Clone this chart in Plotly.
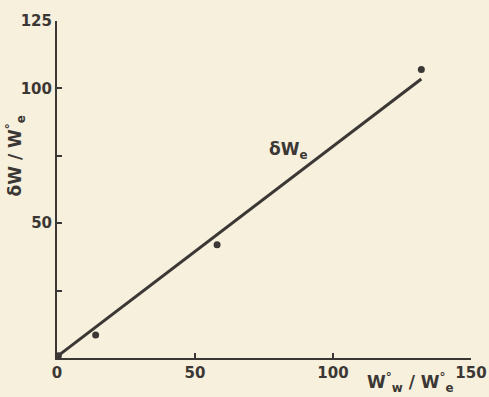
import plotly.graph_objects as go

# data
pts_x = [0.5, 14, 58, 132]
pts_y = [0.8, 8.5, 42, 107]
fit_x = [0, 132]
fit_y = [0.5, 103.5]
x_ticks = [0, 50, 100, 150]
x_ticktext = ["0", "50", "100", "150"]
y_ticks = [25, 50, 75, 100, 125]
y_ticktext = ["", "50", "", "100", "125"]

ink = "#3b3734"
bg = "#f6f0dd"

fig = go.Figure()
fig.add_trace(go.Scatter(x=fit_x, y=fit_y, mode="lines",
                         line=dict(color=ink, width=3), showlegend=False))
fig.add_trace(go.Scatter(x=pts_x, y=pts_y, mode="markers",
                         marker=dict(color=ink, size=7), cliponaxis=False,
                         showlegend=False))

fig.add_annotation(x=84, y=77, text="δW<sub>e</sub>", showarrow=False,
                   font=dict(size=17, color=ink, family="DejaVu Sans", weight="bold"))
fig.add_annotation(xref="paper", yref="paper", x=-0.135, y=0.6,
                   text="δW / W<sup>°</sup><sub>e</sub>", textangle=-90,
                   showarrow=False,
                   font=dict(size=17, color=ink, family="DejaVu Sans", weight="bold"))
fig.add_annotation(x=128, y=0, yshift=-24,
                   text="W<sup>°</sup><sub>w</sub> / W<sup>°</sup><sub>e</sub>",
                   showarrow=False,
                   font=dict(size=17, color=ink, family="DejaVu Sans", weight="bold"))

axis_common = dict(showgrid=False, zeroline=False, showline=True, automargin=False,
                   linecolor=ink, linewidth=2, ticks="inside", ticklen=5,
                   tickcolor=ink, tickwidth=2,
                   tickfont=dict(size=15, color=ink, family="DejaVu Sans", weight="bold"))
fig.update_xaxes(range=[0, 150], tickvals=x_ticks, ticktext=x_ticktext, **axis_common)
fig.update_yaxes(range=[0, 125], tickvals=y_ticks, ticktext=y_ticktext, **axis_common)

fig.update_layout(width=489, height=397, paper_bgcolor=bg, plot_bgcolor=bg,
                  margin=dict(l=57, r=18, t=21, b=39))

fig.write_html("out.html", config={"displayModeBar": False},
               post_script="document.body.style.margin='0';")
